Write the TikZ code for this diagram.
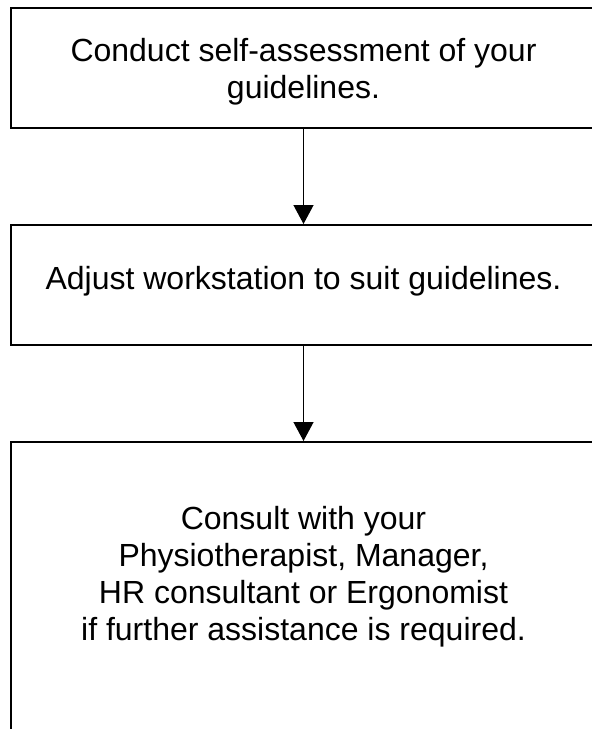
\documentclass[tikz,border=0pt]{standalone}
\usepackage{fontspec}
\setmainfont{Liberation Sans}
\usetikzlibrary{arrows.meta}

\begin{document}
\begin{tikzpicture}[x=1pt, y=-1pt]
        \def\boxw{585pt}
        \def\midx{303.5}
        \tikzstyle{stepbox}=[rectangle, draw=black, line width=2pt, minimum width=\boxw, inner sep=0pt]
        \tikzstyle{steptext}=[align=center, inner sep=0pt, font=\fontsize{32}{37}\selectfont]
        \tikzstyle{flow}=[-{Triangle[width=20pt, length=19pt]}, line width=1.3pt]

        \useasboundingbox (0,0) rectangle (592,729);
        \clip (0,0) rectangle (592,729);

        % Boxes
        \node[stepbox, minimum height=120pt] (assess) at (\midx, 68) {};
        \node[stepbox, minimum height=120pt] (adjust) at (\midx, 285) {};
        \node[stepbox, minimum height=320pt, anchor=north] (consult) at (\midx, 441) {};

        % Texts
        \node[steptext] (assesstext) at (\midx, 72) {Conduct self-assessment of your\\guidelines.};
        \node[steptext] (adjusttext) at (\midx, 281) {Adjust workstation to suit guidelines.};
        \node[steptext] (consulttext) at (\midx, 577) {Consult with your\\Physiotherapist, Manager,\\HR consultant or Ergonomist\\if further assistance is required.};

        % Edges
        \draw [flow] (assess) to (adjust);
        \draw [flow] (adjust) to (consult);

\end{tikzpicture}
\end{document}
